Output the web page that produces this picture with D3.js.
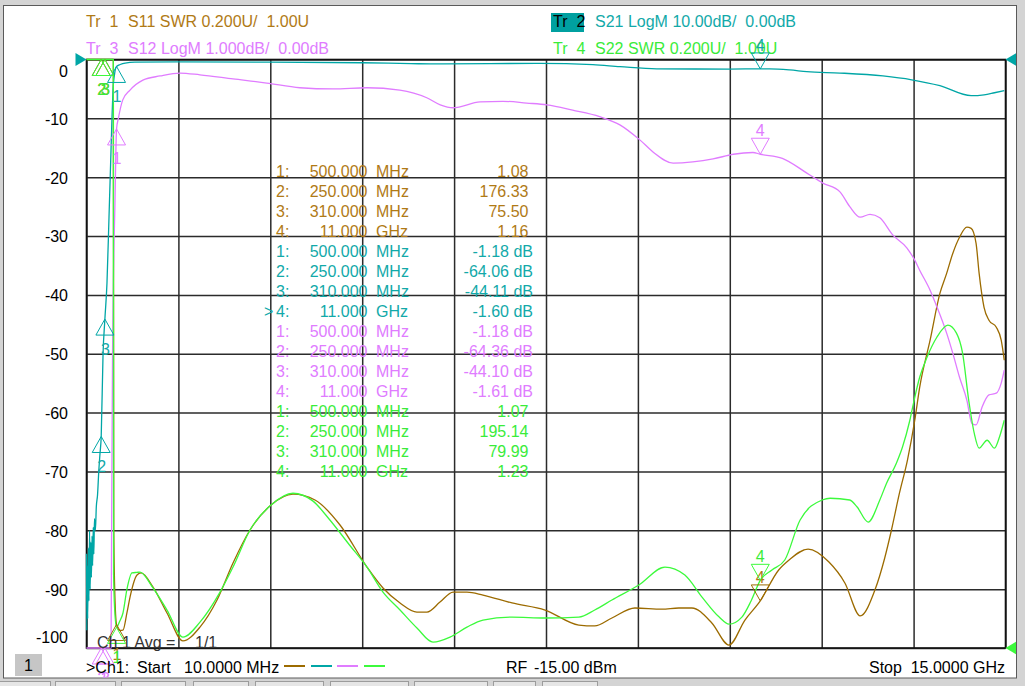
<!DOCTYPE html>
<html>
<head>
<meta charset="utf-8">
<script src="https://cdn.jsdelivr.net/npm/d3@7"></script>
<style>
  html, body { margin: 0; padding: 0; background: #d4d4d4; }
  svg { display: block; font-family: "Liberation Sans", Arial, sans-serif; }
</style>
</head>
<body>
<svg id="chart"></svg>
<script>
// ---- Data (frequency in GHz) ----
const fStart = 0.01, fStop = 15;

// Tr 1: S11 SWR (U)
const s11Swr = [[0.01,600],[0.1,420],[0.25,176.33],[0.31,75.5],[0.38,20],[0.43,6],[0.448,3.1],[0.455,1.41],[0.47,1.2],[0.5,1.08],
  [0.55,1.06],[0.605,1.061],[0.67,1.12],[0.72,1.173],[0.834,1.248],[0.9,1.255],[1.095,1.207],[1.323,1.119],[1.584,1.024],
  [1.861,1.071],[2.139,1.163],[2.4,1.289],[2.677,1.401],[3.02,1.486],[3.378,1.523],[3.737,1.503],[4.145,1.418],[4.585,1.275],
  [4.846,1.204],[5.124,1.153],[5.4,1.122],[5.564,1.122],[5.776,1.156],[5.99,1.19],[6.216,1.19],[6.477,1.18],[6.95,1.153],
  [7.49,1.129],[8.04,1.078],[8.3,1.075],[8.58,1.102],[8.956,1.136],[9.396,1.132],[9.67,1.136],[9.885,1.136],[10.21,1.085],
  [10.49,1.01],[10.75,1.095],[11.0,1.16],[11.3,1.265],[11.47,1.299],[11.78,1.336],[12.12,1.292],[12.38,1.221],[12.63,1.109],
  [12.87,1.197],[13.03,1.306],[13.14,1.401],[13.27,1.526],[13.4,1.638],[13.52,1.774],[13.6,1.886],[13.77,2.046],[13.93,2.205],
  [14.04,2.273],[14.14,2.341],[14.25,2.396],[14.37,2.43],[14.44,2.426],[14.52,2.375],[14.57,2.273],[14.65,2.158],[14.73,2.114],
  [14.85,2.09],[14.93,2.046],[14.98,1.978]];

// Tr 2: S21 LogM (dB)
const s21Db = [[0.01,-84],[0.015,-97],[0.02,-86],[0.03,-95],[0.04,-83],[0.05,-92],[0.06,-80],[0.07,-90],[0.08,-82],[0.09,-88],
  [0.1,-81],[0.11,-86],[0.12,-79.5],[0.13,-84],[0.14,-78],[0.155,-80],[0.17,-76],[0.19,-74],[0.21,-70],[0.23,-67],[0.25,-64.06],
  [0.28,-50],[0.31,-44.11],[0.344,-38],[0.377,-26.8],[0.41,-15.4],[0.426,-9.8],[0.442,-5.3],[0.47,-2.3],[0.5,-1.18],[0.56,-0.85],
  [0.64,-0.6],[0.8,-0.45],[1.5,-0.42],[3.0,-0.45],[4.5,-0.55],[5.3,-0.7],[5.77,-0.76],[7.4,-0.65],[8.27,-0.88],[8.71,-1.22],
  [9.31,-1.6],[10.5,-1.62],[11.0,-1.6],[11.15,-1.6],[11.48,-1.78],[11.76,-2.07],[12.3,-2.3],[13.0,-2.8],[13.47,-3.45],
  [13.93,-4.45],[14.44,-6.15],[14.65,-6.0],[14.82,-5.65],[14.98,-5.3]];

// Tr 3: S12 LogM (dB)
const s12Db = [[0.01,-78],[0.1,-74],[0.2,-69],[0.25,-64.36],[0.31,-44.10],[0.38,-24],[0.41,-11],[0.42,-7.9],[0.435,-5.0],
  [0.475,-2.39],[0.5,-1.18],[0.53,-1.0],[0.6,-0.69],[0.72,-0.52],[0.93,-0.35],[1.21,-0.28],[1.535,-0.23],[1.86,-0.26],
  [2.4,-0.33],[2.95,-0.4],[3.49,-0.48],[4.03,-0.5],[4.585,-0.48],[5.12,-0.52],[5.56,-0.65],[5.78,-0.77],[5.99,-0.82],
  [6.43,-0.72],[6.8,-0.71],[7.19,-0.74],[7.52,-0.77],[7.94,-0.86],[8.38,-0.97],[8.71,-1.11],[9.04,-1.37],[9.25,-1.57],
  [9.58,-1.76],[9.9,-1.74],[10.23,-1.69],[10.56,-1.61],[10.88,-1.58],[11.0,-1.61],[11.36,-1.68],[11.76,-1.93],[12.02,-2.1],
  [12.3,-2.25],[12.46,-2.5],[12.63,-2.68],[12.79,-2.63],[12.95,-2.69],[13.16,-2.98],[13.39,-3.2],[13.52,-3.41],[13.6,-3.58],
  [13.77,-3.92],[13.88,-4.2],[14.04,-4.65],[14.14,-4.99],[14.25,-5.4],[14.37,-5.79],[14.45,-6.18],[14.52,-6.21],[14.62,-5.9],
  [14.73,-5.7],[14.85,-5.67],[14.93,-5.5],[14.98,-5.28]];

// Tr 4: S22 SWR (U)
const s22Swr = [[0.01,650],[0.1,450],[0.25,195.14],[0.31,79.99],[0.38,22],[0.43,7],[0.447,3.1],[0.452,1.25],[0.47,1.13],[0.5,1.07],
  [0.55,1.09],[0.605,1.119],[0.67,1.2],[0.752,1.255],[0.834,1.257],[0.883,1.258],[1.095,1.204],[1.323,1.129],[1.584,1.037],
  [1.861,1.088],[2.188,1.19],[2.4,1.275],[2.677,1.401],[3.02,1.486],[3.378,1.526],[3.7,1.5],[3.98,1.435],[4.3,1.35],[4.585,1.275],
  [4.846,1.19],[5.124,1.129],[5.4,1.068],[5.662,1.02],[5.94,1.037],[6.216,1.071],[6.477,1.095],[6.95,1.105],[7.49,1.102],
  [8.04,1.105],[8.3,1.129],[8.58,1.163],[9.02,1.214],[9.445,1.275],[9.77,1.248],[10.05,1.173],[10.33,1.105],[10.49,1.081],
  [10.7,1.105],[10.85,1.16],[11.0,1.23],[11.19,1.265],[11.4,1.299],[11.65,1.435],[12.01,1.503],[12.14,1.509],[12.46,1.503],
  [12.58,1.479],[12.76,1.428],[12.95,1.503],[13.06,1.56],[13.22,1.628],[13.32,1.683],[13.44,1.774],[13.52,1.852],[13.6,1.92],
  [13.72,1.988],[13.88,2.056],[14.06,2.097],[14.2,2.07],[14.3,2.002],[14.4,1.842],[14.49,1.73],[14.57,1.679],[14.7,1.706],
  [14.82,1.679],[14.9,1.716],[14.98,1.774]];

// Markers
const markerFreqs = [0.5, 0.25, 0.31, 11.0];
const s11Markers = [1.08, 176.33, 75.50, 1.16];
const s21Markers = [-1.18, -64.06, -44.11, -1.60];
const s12Markers = [-1.18, -64.36, -44.10, -1.61];
const s22Markers = [1.07, 195.14, 79.99, 1.23];
const activeMarker = 3;

const yTicks = d3.range(0, -101, -10);

// ---- Layout ----
const width = 1025, height = 686;
const plot = {left: 86.5, right: 1005.5, top: 59.5, bottom: 648};
const fontSize = 16;

const svg = d3.select('#chart').attr('width', width).attr('height', height);

svg.append('rect').attr('width', width).attr('height', height).attr('fill', '#d4d4d4');

// bottom tab strip
const tabs = [[-2,50],[55,115],[121,185],[193,248],[255,323],[330,408],[414,487],[493,535],[542,597]];
svg.selectAll('.tab').data(tabs).enter().append('rect')
    .attr('class', 'tab')
    .attr('x', d => d[0] + 0.5).attr('y', 681.5)
    .attr('width', d => d[1] - d[0]).attr('height', 10)
    .attr('fill', '#e6e6e6').attr('stroke', '#9c9c9c');

// white panel
svg.append('rect')
    .attr('x', 3.5).attr('y', 5.5).attr('width', 1013).attr('height', 672.5)
    .attr('fill', '#fff').attr('stroke', '#5a5a5a');

svg.append('defs').append('clipPath').attr('id', 'panel-clip')
  .append('rect').attr('x', 4).attr('y', 6).attr('width', 1012).attr('height', 671.5);

const panel = svg.append('g').attr('clip-path', 'url(#panel-clip)');

// ---- Scales ----
const x = d3.scaleLinear().domain([fStart, fStop]).range([plot.left, plot.right]);
const yS21 = d3.scaleLinear().domain([-100, 0]).range([plot.bottom, plot.top]).clamp(true);
const yS12 = d3.scaleLinear().domain([-10, 0]).range([plot.bottom, plot.top]).clamp(true);
const ySwr = d3.scaleLinear().domain([1, 3]).range([plot.bottom, plot.top]).clamp(true);

const traces = [
  {name: 'Tr 1', param: 'S11 SWR 0.200U/  1.00U', data: s11Swr, y: ySwr, markers: s11Markers, unit: '',
   color: '#9c6b00', text: '#b07a16', hx: 86, hy: 27},
  {name: 'Tr 2', param: 'S21 LogM 10.00dB/  0.00dB', data: s21Db, y: yS21, markers: s21Markers, unit: ' dB',
   color: '#00a6a6', text: '#12a9a9', hx: 553, hy: 27, active: true},
  {name: 'Tr 3', param: 'S12 LogM 1.000dB/  0.00dB', data: s12Db, y: yS12, markers: s12Markers, unit: ' dB',
   color: '#e07cff', text: '#e07cff', hx: 86, hy: 54},
  {name: 'Tr 4', param: 'S22 SWR 0.200U/  1.00U', data: s22Swr, y: ySwr, markers: s22Markers, unit: '',
   color: '#3cfa3c', text: '#3aec3a', hx: 553, hy: 54}
];

// plain hyphen minus, like the instrument
const fmtNum = (v, n) => v.toFixed(n);

// ---- Grid (through axes) ----
const xGrid = d3.axisBottom(x)
    .tickValues(d3.range(11).map(i => fStart + i * (fStop - fStart) / 10))
    .tickSize(-(plot.bottom - plot.top))
    .tickFormat('');
panel.append('g')
    .attr('transform', `translate(0,${plot.bottom})`)
    .call(xGrid)
    .call(g => g.select('.domain').remove())
    .selectAll('line').attr('stroke', '#2b2b2b').attr('stroke-width', 1.5);

const yGrid = d3.axisLeft(yS21)
    .tickValues(yTicks)
    .tickSize(-(plot.right - plot.left))
    .tickFormat('');
panel.append('g')
    .attr('transform', `translate(${plot.left},0)`)
    .call(yGrid)
    .call(g => g.select('.domain').remove())
    .selectAll('line').attr('stroke', '#2b2b2b').attr('stroke-width', 1.5);

panel.append('rect')
    .attr('x', plot.left).attr('y', plot.top)
    .attr('width', plot.right - plot.left).attr('height', plot.bottom - plot.top)
    .attr('fill', 'none').attr('stroke', '#111').attr('stroke-width', 1.6);

// y labels for the active trace (S21)
const yAxis = d3.axisLeft(yS21).tickValues(yTicks).tickSize(0).tickPadding(0).tickFormat(d => fmtNum(d, 0));
panel.append('g')
    .attr('transform', 'translate(68,0)')
    .call(yAxis)
    .call(g => g.select('.domain').remove())
    .selectAll('text')
    .attr('fill', '#000')
    .style('font-size', fontSize + 'px')
    .style('font-family', '"Liberation Sans", Arial, sans-serif')
    .attr('dy', d => d === 0 ? '1.05em' : d === -100 ? '-0.35em' : '0.37em');

// ---- Header ----
const header = panel.append('g').style('font-size', fontSize + 'px');
traces.forEach(t => {
  if (t.active) {
    header.append('rect').attr('x', 551).attr('y', 13).attr('width', 33).attr('height', 19).attr('fill', '#00a0a0');
  }
  header.append('text').attr('x', t.hx).attr('y', t.hy)
      .attr('fill', t.active ? '#000' : t.text)
      .attr('xml:space', 'preserve')
      .text(t.name.replace(' ', '  '));
  header.append('text').attr('x', t.hx + 42).attr('y', t.hy)
      .attr('fill', t.text)
      .attr('xml:space', 'preserve')
      .text(t.param);
});

// ---- Marker table ----
const fmtFreq = f => f < 1 ? [fmtNum(f * 1000, 3), 'MHz'] : [fmtNum(f, 3), 'GHz'];
const table = panel.append('g').style('font-size', fontSize + 'px');
traces.forEach((t, i) => {
  t.markers.forEach((v, j) => {
    const row = i * 4 + j;
    const by = 176.5 + row * 20;
    const [fv, fu] = fmtFreq(markerFreqs[j]);
    if (t.active && j === activeMarker) {
      table.append('text').attr('x', 264).attr('y', by).attr('fill', t.text).text('>');
    }
    table.append('text').attr('x', 276).attr('y', by).attr('fill', t.text).text(`${j + 1}:`);
    table.append('text').attr('x', 367.5).attr('y', by).attr('fill', t.text).attr('text-anchor', 'end').text(fv);
    table.append('text').attr('x', 376).attr('y', by).attr('fill', t.text).text(fu);
    table.append('text')
        .attr('x', t.unit ? 533 : 528.5).attr('y', by)
        .attr('fill', t.text).attr('text-anchor', 'end')
        .text(fmtNum(v, 2) + t.unit);
  });
});

// ---- Traces ----
const traceG = panel.append('g');
traces.forEach(t => {
  const line = d3.line()
      .x(d => x(d[0]))
      .y(d => t.y(d[1]))
      .curve(d3.curveMonotoneX);
  traceG.append('path')
      .datum(t.data)
      .attr('d', line)
      .attr('fill', 'none')
      .attr('stroke', t.color)
      .attr('stroke-width', 1.3)
      .attr('stroke-linejoin', 'round');
});

// ---- Reference position triangles ----
const refG = panel.append('g');
const refs = [
  {px: x(fStart), py: yS21(0), dir: 1, color: '#00a6a6'},
  {px: x(fStop), py: yS12(0), dir: -1, color: '#00a6a6'},
  {px: x(fStop), py: ySwr(1), dir: -1, color: '#3cfa3c'}
];
refG.selectAll('path').data(refs).enter().append('path')
    .attr('d', r => `M${r.px},${r.py} L${r.px - 11 * r.dir},${r.py - 6.5} L${r.px - 11 * r.dir},${r.py + 6.5} Z`)
    .attr('fill', r => r.color);

// ---- Marker symbols ----
const markG = panel.append('g').style('font-size', fontSize + 'px');
traces.forEach(t => {
  t.markers.forEach((v, j) => {
    const px = x(markerFreqs[j]);
    const py = t.y(v);
    if (j === activeMarker) {
      markG.append('path')
          .attr('d', `M${px},${py} L${px - 9},${py - 16} L${px + 9},${py - 16} Z`)
          .attr('fill', 'none').attr('stroke', t.color).attr('stroke-width', 1);
      markG.append('text').attr('x', px).attr('y', py - 18)
          .attr('text-anchor', 'middle').attr('fill', t.text).text(j + 1);
    } else {
      markG.append('path')
          .attr('d', `M${px},${py} L${px - 9},${py + 16} L${px + 9},${py + 16} Z`)
          .attr('fill', 'none').attr('stroke', t.color).attr('stroke-width', 1);
      markG.append('text').attr('x', px + 0.5).attr('y', py + 35.5)
          .attr('text-anchor', 'middle').attr('fill', t.text).text(j + 1);
    }
  });
});

// ---- Footer / status ----
const foot = panel.append('g').style('font-size', fontSize + 'px').attr('fill', '#000');
foot.append('text').attr('x', 97).attr('y', 648).attr('fill', '#333').text('Ch 1 Avg =');
foot.append('text').attr('x', 195).attr('y', 648).attr('fill', '#333').text('1/1');

foot.append('rect').attr('x', 15).attr('y', 654).attr('width', 27).attr('height', 22).attr('fill', '#c6c6c6');
foot.append('text').attr('x', 28.5).attr('y', 671).attr('text-anchor', 'middle').text('1');

foot.append('text').attr('x', 86).attr('y', 673).text('>Ch1:');
foot.append('text').attr('x', 137).attr('y', 673).text('Start');
foot.append('text').attr('x', 184).attr('y', 673).text('10.0000 MHz');

const legendX = [284, 311, 337, 364];
traces.forEach((t, i) => {
  foot.append('line')
      .attr('x1', legendX[i]).attr('x2', legendX[i] + 21)
      .attr('y1', 666).attr('y2', 666)
      .attr('stroke', t.color).attr('stroke-width', 2);
});

foot.append('text').attr('x', 506).attr('y', 673).text('RF');
foot.append('text').attr('x', 534).attr('y', 673).text('-15.00 dBm');
foot.append('text').attr('x', 869).attr('y', 673).text('Stop');
foot.append('text').attr('x', 1005).attr('y', 673).attr('text-anchor', 'end').text('15.0000 GHz');
</script>
</body>
</html>
